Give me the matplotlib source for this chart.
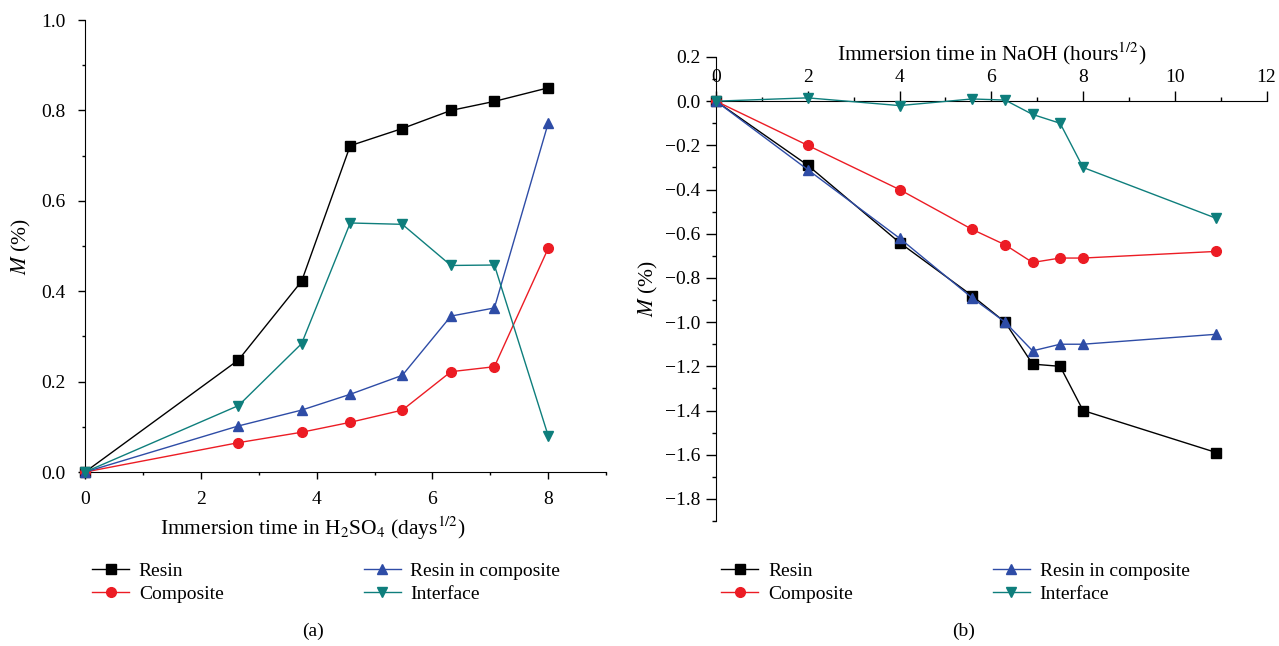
import matplotlib
matplotlib.use("Agg")
import matplotlib.pyplot as plt
from matplotlib.ticker import MultipleLocator

plt.rcParams["font.family"] = ["Liberation Serif", "DejaVu Serif"]
plt.rcParams["mathtext.fontset"] = "stix"
plt.rcParams["font.size"] = 14

# (a) H2SO4 immersion, x in days^1/2
xa = [0, 2.65, 3.74, 4.58, 5.48, 6.32, 7.07, 8.0]
resin_a = [0, 0.248, 0.422, 0.722, 0.76, 0.80, 0.82, 0.85]
composite_a = [0, 0.065, 0.088, 0.11, 0.137, 0.222, 0.233, 0.495]
resin_comp_a = [0, 0.102, 0.137, 0.172, 0.214, 0.345, 0.363, 0.772]
interface_a = [0, 0.147, 0.284, 0.551, 0.548, 0.457, 0.458, 0.08]

# (b) NaOH immersion, x in hours^1/2
xb = [0, 2.0, 4.0, 5.58, 6.3, 6.9, 7.5, 8.0, 10.9]
resin_b = [0, -0.29, -0.64, -0.88, -1.0, -1.19, -1.20, -1.40, -1.59]
composite_b = [0, -0.20, -0.40, -0.58, -0.65, -0.73, -0.71, -0.71, -0.68]
resin_comp_b = [0, -0.31, -0.62, -0.89, -1.0, -1.13, -1.10, -1.10, -1.055]
interface_b = [0, 0.015, -0.02, 0.01, 0.005, -0.06, -0.10, -0.30, -0.53]

labels = ["Resin", "Composite", "Resin in composite", "Interface"]
colors = ["black", "#ec1c24", "#2e4ca6", "#0e7e7c"]
markers = ["s", "o", "^", "v"]

fig = plt.figure(figsize=(12.79, 6.46), dpi=100)
ax1 = fig.add_axes([0.0665, 0.2693, 0.4074, 0.6997])
ax2 = fig.add_axes([0.5598, 0.1935, 0.4305, 0.7183])

for ys, lab, c, m in zip([resin_a, composite_a, resin_comp_a, interface_a], labels, colors, markers):
    ax1.plot(xa, ys, color=c, marker=m, markersize=7, lw=1, label=lab, clip_on=False, zorder=3)
for ys, lab, c, m in zip([resin_b, composite_b, resin_comp_b, interface_b], labels, colors, markers):
    ax2.plot(xb, ys, color=c, marker=m, markersize=7, lw=1, label=lab, clip_on=False, zorder=3)

# left panel
ax1.set_xlim(0, 9)
ax1.set_ylim(0, 1.0)
ax1.xaxis.set_major_locator(MultipleLocator(2))
ax1.xaxis.set_minor_locator(MultipleLocator(1))
ax1.yaxis.set_major_locator(MultipleLocator(0.2))
ax1.yaxis.set_minor_locator(MultipleLocator(0.1))
ax1.spines["top"].set_visible(False)
ax1.spines["right"].set_visible(False)
ax1.tick_params(which="major", direction="out", length=5, width=1, pad=9)
ax1.tick_params(which="minor", direction="out", length=2.5, width=1)
ax1.set_xlabel("Immersion time in H$_2$SO$_4$ (days$^{1/2}$)", fontsize=15.5, labelpad=4)
ax1.xaxis.label.set_x(0.438)
ax1.set_ylabel("$M$ (%)", fontsize=15.5, labelpad=6)

# right panel: x axis along y = 0, labels on top
ax2.set_xlim(0, 12)
ax2.set_ylim(-1.9, 0.2)
ax2.xaxis.set_major_locator(MultipleLocator(2))
ax2.xaxis.set_minor_locator(MultipleLocator(1))
ax2.yaxis.set_major_locator(MultipleLocator(0.2))
ax2.yaxis.set_minor_locator(MultipleLocator(0.1))
ax2.spines["top"].set_position(("data", 0))
ax2.spines["bottom"].set_visible(False)
ax2.spines["right"].set_visible(False)
ax2.xaxis.set_ticks_position("top")
ax2.xaxis.set_label_position("top")
ax2.tick_params(which="major", direction="out", length=7, width=1, pad=4)
ax2.tick_params(which="minor", direction="out", length=3, width=1)
ax2.set_xlabel("Immersion time in NaOH (hours$^{1/2}$)", fontsize=15.5, labelpad=6)
ax2.set_ylabel("$M$ (%)", fontsize=15.5, labelpad=4)

leg_kw = dict(loc="upper left", bbox_transform=fig.transFigure, ncol=2, frameon=False,
              handlelength=1.9, handletextpad=0.5, columnspacing=7.2, labelspacing=0.3,
              fontsize=14, borderaxespad=0)
ax1.legend(bbox_to_anchor=(0.066, 0.142), **leg_kw)
ax2.legend(bbox_to_anchor=(0.558, 0.142), **leg_kw)

fig.text(0.245, 0.01, "(a)", ha="center", va="bottom", fontsize=14)
fig.text(0.753, 0.01, "(b)", ha="center", va="bottom", fontsize=14)

fig.savefig("out.png", dpi=100)
